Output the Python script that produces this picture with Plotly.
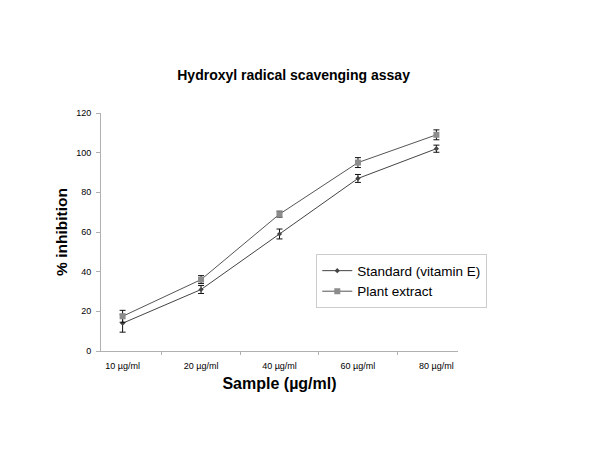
import plotly.graph_objects as go

# data
samples = ["10 µg/ml", "20 µg/ml", "40 µg/ml", "60 µg/ml", "80 µg/ml"]
standard = [14, 31, 59, 87, 102]
standard_err = [4.5, 2, 2.5, 2, 1.8]
plant = [17.5, 36, 69, 95, 109]
plant_err = [3, 2, 1.5, 2.5, 2.5]

FONT = "Liberation Sans, Arial, sans-serif"

fig = go.Figure()

fig.add_trace(go.Scatter(
    x=samples, y=standard, name="Standard (vitamin E)",
    mode="lines+markers",
    line=dict(color="#444444", width=1),
    marker=dict(symbol="diamond", size=4, color="#444444"),
    error_y=dict(type="data", array=standard_err, color="#111111", thickness=1, width=3),
))

fig.add_trace(go.Scatter(
    x=samples, y=plant, name="Plant extract",
    mode="lines+markers",
    line=dict(color="#555555", width=1),
    marker=dict(symbol="square", size=6, color="#8c8c8c"),
    error_y=dict(type="data", array=plant_err, color="#111111", thickness=1, width=3),
))

# the page body adds an 8px offset, so margins are shifted to compensate
fig.update_layout(
    width=600, height=464,
    margin=dict(l=93, r=150, t=105, b=121),
    paper_bgcolor="white",
    plot_bgcolor="white",
    font=dict(family=FONT, color="#000000"),
    title=dict(
        text="<b>Hydroxyl radical scavenging assay</b>",
        x=0.476, xanchor="center", y=0.856, yanchor="middle",
        font=dict(size=14),
    ),
    showlegend=True,
    legend=dict(
        x=0.603, xanchor="left",
        y=0.406, yanchor="top",
        bordercolor="#cccccc", borderwidth=1,
        bgcolor="white",
        font=dict(size=13.5),
        tracegroupgap=0,
        itemwidth=30,
    ),
    xaxis=dict(
        type="category",
        showgrid=False,
        showline=True, linecolor="#b0b0b0", linewidth=1,
        ticks="outside", ticklen=3, tickcolor="#b0b0b0",
        tickson="boundaries",
        tickfont=dict(size=9),
        ticklabelstandoff=6,
        title=dict(text="<b>Sample (µg/ml)</b>", font=dict(size=16), standoff=8),
    ),
    yaxis=dict(
        range=[0, 120],
        dtick=20,
        showgrid=False,
        zeroline=False,
        showline=True, linecolor="#b0b0b0", linewidth=1,
        ticks="outside", ticklen=4, tickcolor="#b0b0b0",
        tickfont=dict(size=9),
        ticklabelstandoff=3,
        title=dict(text="<b>% inhibition</b>", font=dict(size=15.5), standoff=4),
    ),
)

fig.write_html("out.html")
